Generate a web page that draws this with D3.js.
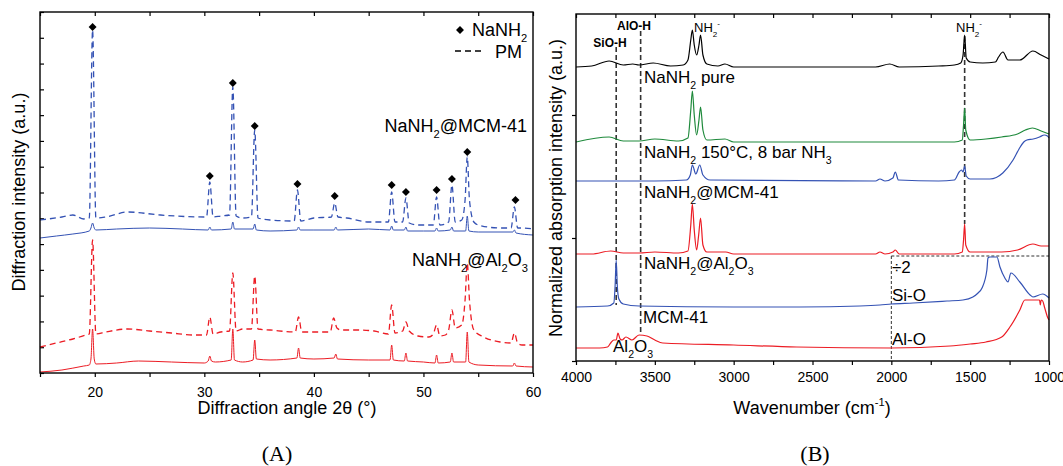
<!DOCTYPE html>
<html>
<head>
  <title>XRD and DRIFT of NaNH2</title>
  <meta charset="utf8">
  <style type="text/css">
    body { margin: 0; background: #fff; font-family: "Liberation Sans", Arial, sans-serif; }
    .axis path { display: none; }
    .axis line { stroke: #000; stroke-width: 1.2; }
    .axis text { font-size: 14px; fill: #000; font-family: "Liberation Sans", Arial, sans-serif; }
    .frame { fill: none; stroke: #000; stroke-width: 1.4; }
    .curve { fill: none; stroke-width: 1.2; }
    .dash { stroke-dasharray: 6,4; }
    .ref { stroke: #333; stroke-width: 1.6; stroke-dasharray: 5,3; }
    .div2 { stroke: #333; stroke-width: 1; stroke-dasharray: 3,2; }
    text { fill: #000; }
  </style>
</head>
<body>

<script src="https://d3js.org/d3.v7.min.js"></script>

<script type="text/javascript">

var width = 1063, height = 466;

// ---- (A) XRD, 2theta vs intensity (a.u.) ----
var xrdAlSample = [[15,1],[17,3],[19,7],[19.5,8],[19.65,14],[19.8,44],[19.95,14],[20.1,9],[22,10],[24,12],[27,11],[30,10],
  [30.35,12],[30.5,17],[30.65,12],[31,11],[32.45,13],[32.6,44],[32.75,13],[33.5,11],[34.45,13],[34.6,33],[34.75,14],[36,13],
  [38.45,15],[38.6,25],[38.75,15],[40,14],[41.85,15],[42,19],[42.15,14],[45,13],[46.95,13],[47.1,28],[47.25,13],[48.25,12],
  [48.4,20],[48.55,12],[50,11],[51.05,10],[51.2,18],[51.35,10],[52.45,11],[52.6,20],[52.75,11],[53.85,11],[54,41],[54.15,11],
  [55,8],[58.15,7],[58.3,10],[58.45,7],[60,6]];

var xrdAlMix = [[15,26],[16.5,30],[18,34],[19.2,38],[19.5,39],[19.8,133],[20.1,39],[21,41],[23,44],[25,42],[27,40],[29,38],
  [30.2,38],[30.5,56],[30.8,39],[31.5,41],[32.3,42],[32.6,100],[32.9,42],[33.5,44],[34.3,44],[34.6,97],[34.9,44],[36,43],
  [38.3,41],[38.6,56],[38.9,41],[40,41],[41.5,41],[41.8,55],[42.1,45],[42.5,43],[44,43],[45.5,42],[46.8,39],[47.1,68],[47.4,40],
  [48.1,42],[48.4,51],[48.7,42],[49.5,37],[50.5,36],[50.9,39],[51.2,48],[51.5,37],[52,38],[52.3,43],[52.6,63],[52.9,45],
  [53.5,48],[53.8,73],[54,110],[54.2,73],[54.6,43],[55.5,36],[57,31],[58,30],[58.3,40],[58.6,30],[59,28],[60,28]];

var xrdMcmSample = [[15,135],[16.5,137],[18,139],[19.5,142],[19.65,145],[19.8,150],[19.95,145],[20.1,143],[22,144],[25,145],
  [28,144],[30.35,143],[30.5,146],[30.65,143],[32.45,144],[32.6,151],[32.75,144],[34.45,144],[34.6,149],[34.75,143],[36,142],
  [38.45,143],[38.6,146],[38.75,143],[40,143],[41.85,143],[42,146],[42.15,143],[45,144],[46.95,143],[47.1,147],[47.25,143],
  [48.25,143],[48.4,146],[48.55,142],[50,142],[51.05,142],[51.2,145],[51.35,142],[52.45,143],[52.6,146],[52.75,142],
  [53.85,142],[54,157],[54.15,142],[55,141],[58.15,141],[58.3,143],[58.45,140],[60,138]];

var xrdMcmMix = [[15,153],[17,156],[18,158],[19,154],[19.5,155],[19.8,343],[20.1,155],[21,156],[23,161],[26,158],[30,156],
  [30.2,156],[30.5,191],[30.8,156],[31.5,157],[32.3,158],[32.6,286],[32.9,157],[33.5,155],[34.3,156],[34.6,243],[34.9,155],
  [36,153],[38.2,152],[38.5,183],[38.8,152],[40,155],[41.6,156],[41.9,170],[42.2,156],[43,155],[45,151],[46.8,151],[47.1,181],
  [47.4,151],[48.1,151],[48.4,175],[48.7,150],[49.5,148],[50.9,148],[51.2,176],[51.5,148],[52.3,151],[52.6,188],[52.9,151],
  [53.5,153],[53.8,173],[54,216],[54.2,173],[54.6,151],[55,148],[57,145],[58,145],[58.3,166],[58.6,145],[59,145],[60,144]];

var nanh2Peaks = [[19.8,346],[30.5,197],[32.6,290],[34.6,247],[38.5,189],[41.9,177],[47.1,188],[48.4,181],[51.2,183],
  [52.6,194],[54,221],[58.4,173]];

var xrdTicks = [15, 20, 25, 30, 35, 40, 45, 50, 55, 60];

// ---- (B) DRIFT, wavenumber vs absorption (a.u.) ----
var irPure = [[4000,294],[3900,295],[3790,300],[3700,296],[3640,297],[3600,296],[3510,298],[3400,295],[3320,296],[3290,301],
  [3272,321],[3262,331],[3250,316],[3235,306],[3220,316],[3210,326],[3195,306],[3170,297],[3100,295],[3055,297],[3000,294],
  [2500,294],[2100,294],[2010,297],[1950,294],[1700,295],[1600,296],[1560,298],[1545,306],[1535,326],[1525,303],[1500,299],
  [1420,298],[1340,299],[1320,304],[1292,309],[1260,301],[1185,301],[1102,310],[1050,306],[1000,302]];

var irAmmonia = [[4000,219],[3790,224],[3700,220],[3600,220],[3500,222],[3350,220],[3290,223],[3272,251],[3262,270],
  [3250,246],[3235,226],[3220,241],[3210,254],[3195,231],[3170,221],[3055,222],[3000,219],[1600,219],[1550,221],[1542,236],
  [1535,253],[1528,231],[1500,221],[1400,222],[1300,224],[1200,227],[1150,231],[1105,233],[1050,230],[1000,227]];

var irMcmSample = [[4000,180],[3500,180],[3300,181],[3275,186],[3262,196],[3240,187],[3215,196],[3195,186],[3150,181],
  [2100,180],[2072,182],[2040,180],[1990,183],[1975,189],[1955,181],[1700,180],[1600,181],[1570,189],[1555,191],[1545,189],
  [1535,195],[1525,185],[1500,182],[1438,182],[1375,182],[1293,188],[1228,201],[1190,212],[1160,219],[1140,221],[1100,222],
  [1060,224],[1030,226],[1010,225],[1000,223]];

var irAlSample = [[4000,107],[3900,107],[3780,110],[3700,108],[3600,108],[3500,109],[3350,108],[3290,110],[3272,136],
  [3262,157],[3250,131],[3235,111],[3222,126],[3210,143],[3195,116],[3170,109],[3050,109],[3000,107],[2100,107],[2072,109],
  [2040,107],[1990,109],[1975,111],[1950,107],[1600,107],[1550,109],[1542,121],[1535,137],[1528,116],[1500,109],[1300,109],
  [1200,111],[1102,117],[1050,115],[1000,115]];

var irMcm = [[4000,54],[3800,55],[3760,58],[3752,75],[3745,101],[3738,75],[3728,62],[3700,57],[3600,55],[3000,54],[2580,54],
  [2200,55],[2072,56],[2000,57],[1863,58],[1647,60],[1546,61],[1483,64],[1450,68],[1425,73],[1394,91],[1387,103],[1375,104],
  [1330,104],[1311,94],[1280,83],[1260,79],[1242,88],[1185,79],[1120,66],[1102,64],[1040,67],[1000,63]];

var irAl2o3 = [[4000,13],[3850,13],[3800,14],[3780,18],[3760,21],[3745,21],[3734,28],[3720,22],[3708,21],[3683,24],
  [3645,21],[3600,26],[3550,25],[3500,21],[3450,18],[3000,16],[2600,14],[2000,13],[1628,15],[1500,17],[1400,19],[1300,24],
  [1248,34],[1185,51],[1153,61],[1100,61],[1060,61],[1055,56],[1050,61],[1040,60],[1027,53],[1007,43],[1000,41]];

// band positions: wavenumber, top, bottom
var bandLines = [[3745,314,56],[3590,330,28],[1535,325,137]];
var irTicks = d3.range(4000, 999, -250);

var red = '#ec1c24', blue = '#3452b4', green = '#1f8a3c';

var svg = d3.select('body').append('svg')
  .attr('width', width)
  .attr('height', height);

// rich text helper: parts = [[text, 'sub'|'sup'|undefined], ...]
function richText(g, x, y, parts, size, anchor) {
  var t = g.append('text')
    .attr('x', x).attr('y', y)
    .attr('text-anchor', anchor || 'start')
    .style('font-size', size + 'px');
  var shift = 0;
  parts.forEach(function(p) {
    var s = p[1] === 'sub' ? size * 0.35 : p[1] === 'sup' ? -size * 0.45 : 0;
    t.append('tspan')
      .attr('dy', s - shift)
      .style('font-size', p[1] ? (size * 0.62) + 'px' : null)
      .text(p[0]);
    shift = s;
  });
  return t;
}

// ================= panel A =================
var xA = d3.scaleLinear().domain([15, 60]).range([40, 533]);
var yA = d3.scaleLinear().domain([0, 361]).range([373, 12]);
var gA = svg.append('g');

var lineA = d3.line()
  .x(function(d) { return xA(d[0]) })
  .y(function(d) { return yA(d[1]) })
  .curve(d3.curveMonotoneX);

gA.append('g').attr('class', 'axis')
  .attr('transform', 'translate(0,373)')
  .call(d3.axisBottom(xA).tickValues(xrdTicks).tickSize(4).tickPadding(10)
    .tickFormat(function(d) { return d % 10 === 0 ? d : '' }));
gA.append('g').attr('class', 'axis')
  .attr('transform', 'translate(0,12)')
  .call(d3.axisTop(xA).tickValues(xrdTicks).tickSize(-4).tickFormat(''));
gA.append('g').attr('class', 'axis')
  .attr('transform', 'translate(40,0)')
  .call(d3.axisLeft(yA).tickValues(d3.range(15).map(function(i) { return i * 361 / 14 }))
    .tickSize(-4).tickFormat(''));

var seriesA = [
  { data: xrdAlSample, color: red, dash: false },
  { data: xrdAlMix, color: red, dash: true },
  { data: xrdMcmSample, color: blue, dash: false },
  { data: xrdMcmMix, color: blue, dash: true }
];

gA.selectAll('.curve')
  .data(seriesA)
  .enter()
  .append('path')
  .attr('class', function(d) { return d.dash ? 'curve dash' : 'curve' })
  .attr('d', function(d) { return lineA(d.data) })
  .style('stroke', function(d) { return d.color })
  .style('stroke-width', function(d) { return d.dash ? 1.3 : 1 });

gA.selectAll('.marker')
  .data(nanh2Peaks)
  .enter()
  .append('path')
  .attr('class', 'marker')
  .attr('d', d3.symbol().type(d3.symbolDiamond2).size(40))
  .attr('transform', function(d) { return 'translate(' + xA(d[0]) + ',' + yA(d[1]) + ')' })
  .style('fill', '#000');

gA.append('rect').attr('class', 'frame')
  .attr('x', 40).attr('y', 12).attr('width', 493).attr('height', 361);

// legend
gA.append('path')
  .attr('d', d3.symbol().type(d3.symbolDiamond2).size(40))
  .attr('transform', 'translate(460,30)');
richText(gA, 472, 36, [['NaNH'], ['2', 'sub']], 18);
gA.append('line').attr('class', 'dash')
  .attr('x1', 455).attr('x2', 485).attr('y1', 51).attr('y2', 51)
  .style('stroke', '#000').style('stroke-width', 1.3);
richText(gA, 522, 58, [['PM']], 18, 'end');

richText(gA, 527, 132, [['NaNH'], ['2', 'sub'], ['@MCM-41']], 18, 'end');
richText(gA, 528, 266, [['NaNH'], ['2', 'sub'], ['@Al'], ['2', 'sub'], ['O'], ['3', 'sub']], 18, 'end');

gA.append('text')
  .attr('x', 287).attr('y', 414)
  .attr('text-anchor', 'middle')
  .style('font-size', '18px')
  .text('Diffraction angle 2\u03b8 (\u00b0)');
gA.append('text')
  .attr('transform', 'translate(25,192) rotate(-90)')
  .attr('text-anchor', 'middle')
  .style('font-size', '18px')
  .text('Diffraction intensity (a.u.)');
gA.append('text')
  .attr('x', 277).attr('y', 461)
  .attr('text-anchor', 'middle')
  .style('font-family', '"Liberation Serif", "DejaVu Serif", serif')
  .style('font-size', '22px')
  .text('(A)');

// ================= panel B =================
var xB = d3.scaleLinear().domain([4000, 1000]).range([576, 1049]);
var yB = d3.scaleLinear().domain([0, 347]).range([361, 14]);
var gB = svg.append('g');

var lineB = d3.line()
  .x(function(d) { return xB(d[0]) })
  .y(function(d) { return yB(d[1]) })
  .curve(d3.curveMonotoneX);

gB.append('g').attr('class', 'axis')
  .attr('transform', 'translate(0,361)')
  .call(d3.axisBottom(xB).tickValues(irTicks).tickSize(4).tickPadding(7)
    .tickFormat(function(d) { return d % 500 === 0 ? d : '' }));
gB.append('g').attr('class', 'axis')
  .attr('transform', 'translate(0,14)')
  .call(d3.axisTop(xB).tickValues(irTicks).tickSize(-4).tickFormat(''));
gB.append('g').attr('class', 'axis')
  .attr('transform', 'translate(576,0)')
  .call(d3.axisLeft(yB).tickValues([0, 123, 246]).tickSize(4).tickFormat(''));

// band markers
gB.selectAll('.ref')
  .data(bandLines)
  .enter()
  .append('line')
  .attr('class', 'ref')
  .attr('x1', function(d) { return xB(d[0]) })
  .attr('x2', function(d) { return xB(d[0]) })
  .attr('y1', function(d) { return yB(d[1]) })
  .attr('y2', function(d) { return yB(d[2]) });

// divided-by-two region
gB.append('line').attr('class', 'div2')
  .attr('x1', xB(2000)).attr('x2', xB(1000)).attr('y1', yB(105)).attr('y2', yB(105));
gB.append('line').attr('class', 'div2')
  .attr('x1', xB(2000)).attr('x2', xB(2000)).attr('y1', yB(105)).attr('y2', yB(0));

var seriesB = [
  { data: irPure, color: '#000' },
  { data: irAmmonia, color: green },
  { data: irMcmSample, color: blue },
  { data: irAlSample, color: red },
  { data: irMcm, color: blue },
  { data: irAl2o3, color: red }
];

gB.selectAll('.curve')
  .data(seriesB)
  .enter()
  .append('path')
  .attr('class', 'curve')
  .attr('d', function(d) { return lineB(d.data) })
  .style('stroke', function(d) { return d.color });

gB.append('rect').attr('class', 'frame')
  .attr('x', 576).attr('y', 14).attr('width', 473).attr('height', 347);

// band labels
gB.append('text').attr('x', 610).attr('y', 47).attr('text-anchor', 'middle')
  .style('font-size', '12px').style('font-weight', 'bold').text('SiO-H');
gB.append('text').attr('x', 634).attr('y', 30).attr('text-anchor', 'middle')
  .style('font-size', '12px').style('font-weight', 'bold').text('AlO-H');
richText(gB, 694, 32, [['NH'], ['2', 'sub'], ['-', 'sup']], 13);
richText(gB, 956, 32, [['NH'], ['2', 'sub'], ['-', 'sup']], 13);

// sample labels
richText(gB, 644, 83, [['NaNH'], ['2', 'sub'], [' pure']], 17);
richText(gB, 644, 158, [['NaNH'], ['2', 'sub'], [' 150\u00b0C, 8 bar NH'], ['3', 'sub']], 17);
richText(gB, 644, 198, [['NaNH'], ['2', 'sub'], ['@MCM-41']], 17);
richText(gB, 644, 269, [['NaNH'], ['2', 'sub'], ['@Al'], ['2', 'sub'], ['O'], ['3', 'sub']], 17);
richText(gB, 643, 323, [['MCM-41']], 17);
richText(gB, 613, 352, [['Al'], ['2', 'sub'], ['O'], ['3', 'sub']], 17);
richText(gB, 892, 273, [['\u00f72']], 17);
richText(gB, 892, 301, [['Si-O']], 17);
richText(gB, 892, 345, [['Al-O']], 17);

richText(gB, 812, 414, [['Wavenumber (cm'], ['-1', 'sup'], [')']], 18, 'middle');
gB.append('text')
  .attr('transform', 'translate(562,188) rotate(-90)')
  .attr('text-anchor', 'middle')
  .style('font-size', '18px')
  .text('Normalized absorption intensity (a.u.)');
gB.append('text')
  .attr('x', 815).attr('y', 461)
  .attr('text-anchor', 'middle')
  .style('font-family', '"Liberation Serif", "DejaVu Serif", serif')
  .style('font-size', '22px')
  .text('(B)');

</script>

</body>
</html>
